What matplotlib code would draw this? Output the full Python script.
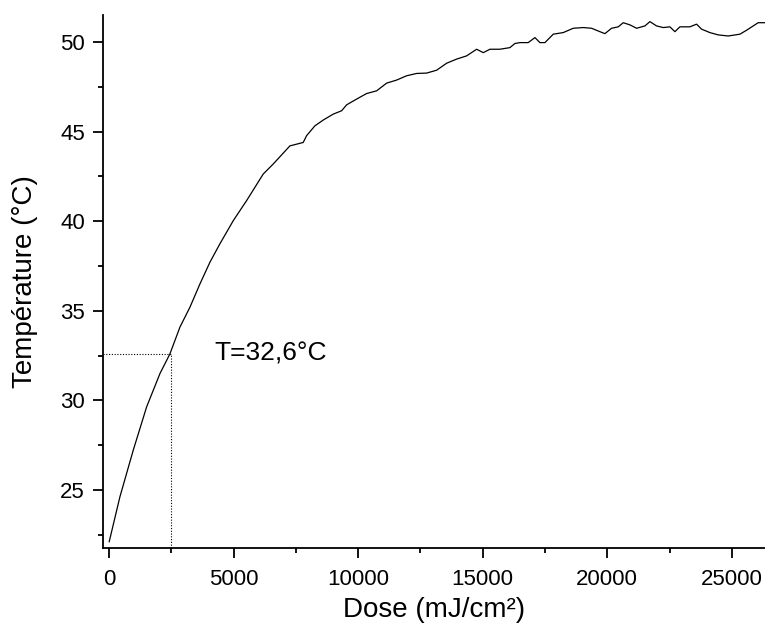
import matplotlib
matplotlib.use('Agg')
import matplotlib.pyplot as plt
from matplotlib.ticker import MultipleLocator

# dose (mJ/cm²) and temperature (°C)
dose = [10, 441, 976, 1512, 2047, 2448, 2849, 3250, 3652, 4053, 4454, 4990,
        5526, 6192, 6594, 7263, 7797, 7933, 8267, 8600, 9001, 9339, 9540,
        9940, 10342, 10743, 11144, 11545, 11947, 12348, 12749, 13151, 13552,
        13953, 14355, 14756, 15023, 15290, 15691, 16092, 16293, 16494, 16827,
        17096, 17297, 17498, 17832, 18233, 18634, 19035, 19370, 19704, 19905,
        20172, 20440, 20640, 20909, 21176, 21510, 21711, 21979, 22246, 22513,
        22714, 22914, 23316, 23583, 23784, 24117, 24452, 24853, 25323, 25590,
        25856, 26056, 26324]
temp = [22.12, 24.63, 27.23, 29.64, 31.5, 32.6, 34.09, 35.2, 36.5, 37.71,
        38.74, 40.03, 41.15, 42.63, 43.19, 44.2, 44.39, 44.77, 45.32, 45.64,
        45.97, 46.16, 46.49, 46.81, 47.12, 47.27, 47.70, 47.87, 48.11, 48.24,
        48.26, 48.42, 48.81, 49.04, 49.22, 49.59, 49.40, 49.59, 49.59, 49.68,
        49.91, 49.96, 49.96, 50.24, 49.96, 49.96, 50.43, 50.52, 50.76, 50.80,
        50.76, 50.57, 50.46, 50.76, 50.84, 51.07, 50.95, 50.76, 50.89, 51.13,
        50.89, 50.80, 50.84, 50.57, 50.84, 50.84, 50.99, 50.71, 50.52, 50.39,
        50.33, 50.43, 50.65, 50.89, 51.07, 51.07]

# marked point
dose_mark = 2500
temp_mark = 32.6
label_mark = 'T=32,6°C'

plt.rcParams['font.family'] = ['Liberation Sans', 'DejaVu Sans']

fig = plt.figure(figsize=(7.65, 6.33), dpi=100)
ax = fig.add_axes([0.1346, 0.1343, 0.8654, 0.842])

ax.plot(dose, temp, color='black', linewidth=0.9)

xmin, ymin = -240, 21.77
ax.plot([xmin, dose_mark], [temp_mark, temp_mark], color='black',
        linewidth=0.8, linestyle=(0, (1, 1.5)))
ax.plot([dose_mark, dose_mark], [ymin, temp_mark], color='black',
        linewidth=0.8, linestyle=(0, (1, 1.5)))
ax.text(4250, temp_mark, label_mark, fontsize=19, va='center', ha='left')

ax.set_xlim(xmin, 26330)
ax.set_ylim(ymin, 51.5)

ax.xaxis.set_major_locator(MultipleLocator(5000))
ax.xaxis.set_minor_locator(MultipleLocator(2500))
ax.yaxis.set_major_locator(MultipleLocator(5))
ax.yaxis.set_minor_locator(MultipleLocator(2.5))

ax.spines['top'].set_visible(False)
ax.spines['right'].set_visible(False)
for s in ['left', 'bottom']:
    ax.spines[s].set_linewidth(1.3)

ax.tick_params(which='major', length=7, width=1.3, labelsize=16, pad=6)
ax.tick_params(which='minor', length=3.5, width=1.3)
ax.tick_params(axis='x', which='major', pad=8)

ax.set_xlabel('Dose (mJ/cm²)', fontsize=20, labelpad=5)
ax.set_ylabel('Température (°C)', fontsize=20, labelpad=16)

fig.savefig('out.png', dpi=100)
